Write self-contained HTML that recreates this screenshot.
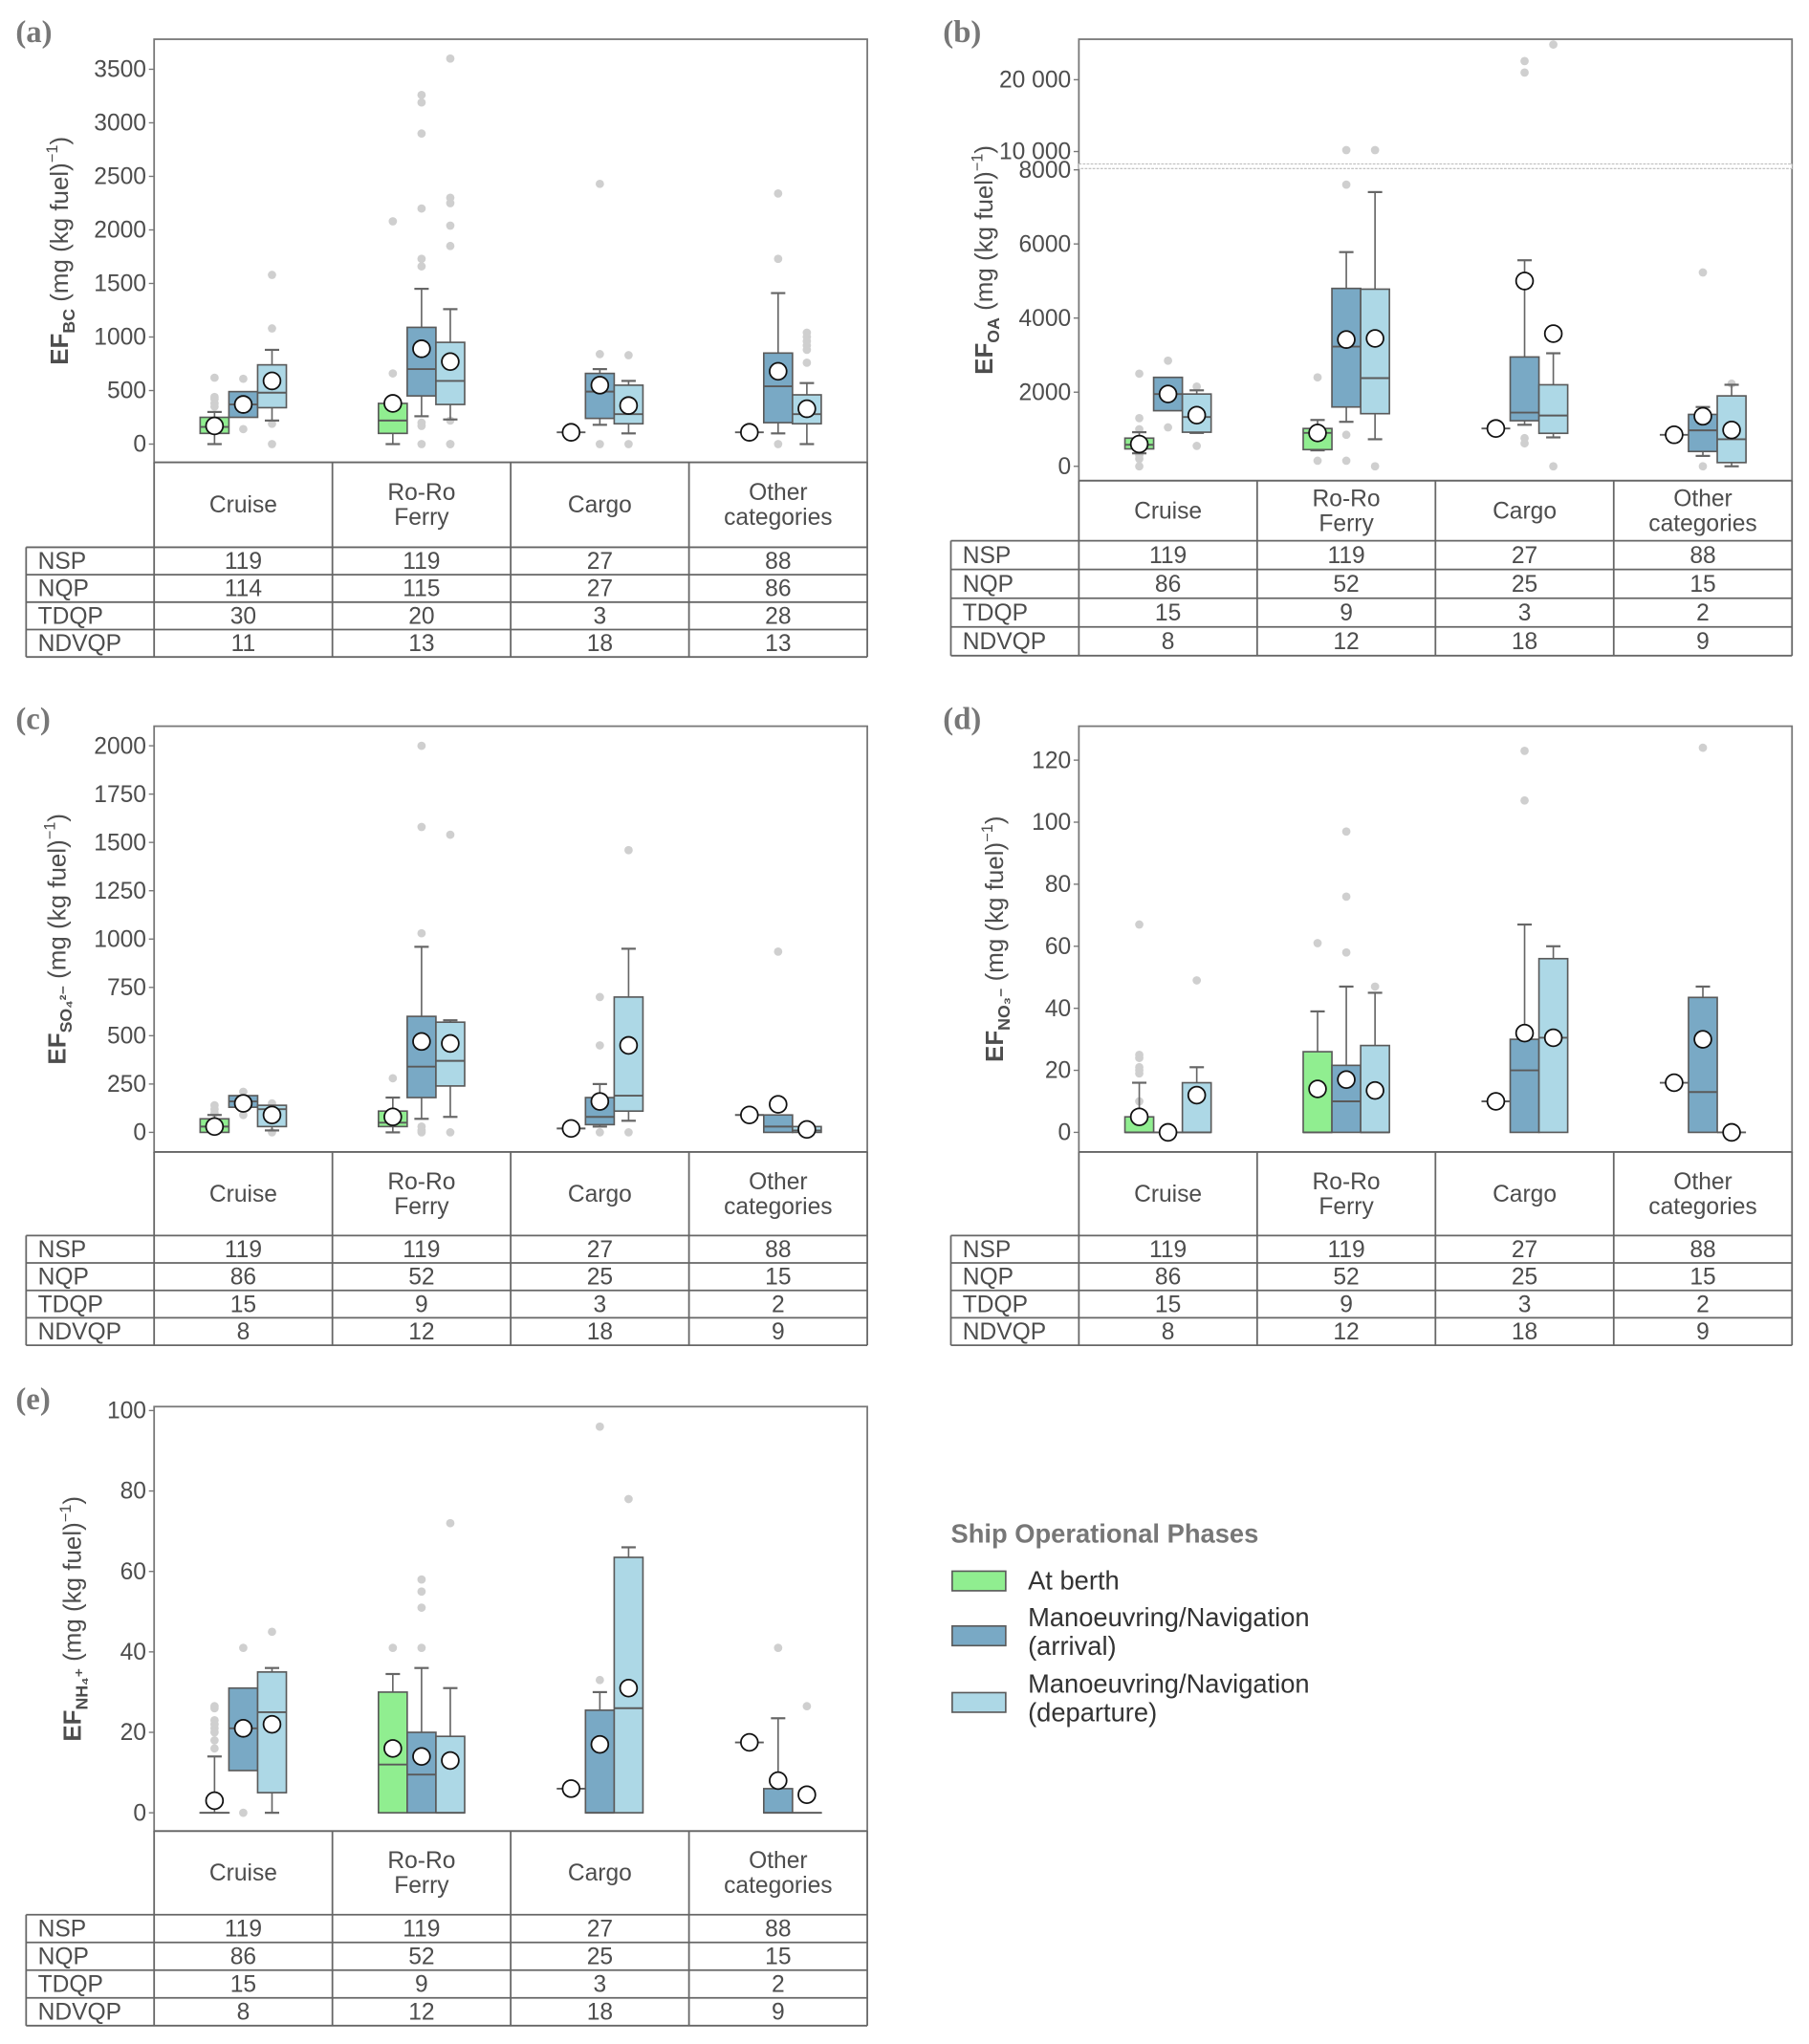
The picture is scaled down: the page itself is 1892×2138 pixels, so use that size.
<!DOCTYPE html>
<html><head><meta charset="utf-8">
<style>
html,body{margin:0;padding:0;background:#fff;}
svg{display:block;font-family:"Liberation Sans Narrow","Liberation Sans",sans-serif;}
</style></head>
<body>
<svg id="fig" width="1892" height="2138" viewBox="0 0 1385 1565" xmlns="http://www.w3.org/2000/svg"></svg>
<script>
// ---------- shared data ----------
const categories = [["Cruise"],["Ro-Ro","Ferry"],["Cargo"],["Other","categories"]];
const phases = ["At berth","Manoeuvring/Navigation (arrival)","Manoeuvring/Navigation (departure)"];
const rowLabels = ["NSP","NQP","TDQP","NDVQP"];
const tableA = [[119,119,27,88],[114,115,27,86],[30,20,3,28],[11,13,18,13]];
const tableOther = [[119,119,27,88],[86,52,25,15],[15,9,3,2],[8,12,18,9]];

// Boxes: order = cruise(berth,arr,dep), roro(...), cargo(...), other(...); [whiskerLow,q1,median,q3,whiskerHigh] or null for single value
const bcBoxes = [[0,100,160,250,300],[250,250,370,490,490],[220,340,480,740,880],
 [0,100,220,380,380],[260,450,700,1090,1450],[230,370,590,950,1260],
 null,[180,240,490,660,700],[100,190,280,550,590],
 null,[100,200,540,850,1410],[0,190,280,460,570]];
const bcMeans = [170,370,590,380,890,770,110,550,360,110,680,330];
const bcOutliers = [[350,380,420,440,620],[140,610],[0,190,1080,1580],
 [660,2080],[0,170,200,1660,1730,2200,2900,3190,3260],[0,0,220,1850,2040,2250,2300,3600],
 [],[0,840,2430],[0,830],[],[0,1730,2340],[760,880,920,960,1000,1040]];
const bcTicks = [0,500,1000,1500,2000,2500,3000,3500];

const oaBoxes = [[350,470,580,760,920],[1500,1500,1950,2400,2400],[900,920,1330,1950,2050],
 [430,450,900,1020,1250],[1200,1600,3230,4800,5780],[730,1420,2380,4780,7400],
 null,[1120,1230,1450,2950,5560],[780,890,1370,2200,3050],
 null,[280,400,970,1400,1600],[0,100,730,1900,2200]];
const oaMeans = [600,1950,1380,900,3420,3450,1020,5000,3580,850,1350,980];
const oaOutliers = [[0,200,300,1000,1300,2500],[1050,2850],[550,2150],
 [150,2400],[150,850,7600,10200],[0,10200],
 [],[620,760,21000,22600],[0,24900],[],[0,5230],[2230]];
const oaTicksLow = [0,2000,4000,6000,8000];
const oaTicksHigh = [10000,20000];
const oaTickLabelsHigh = ["10 000","20 000"];

const so4Boxes = [[0,0,30,70,90],[130,130,160,190,190],[10,30,120,140,140],
 [0,30,50,110,180],[70,180,340,600,960],[80,240,370,570,580],
 null,[30,40,80,180,250],[60,110,190,700,950],
 null,[0,0,30,90,90],[0,0,10,30,30]];
const so4Means = [30,150,90,80,470,460,20,160,450,90,145,15];
const so4Outliers = [[100,120,140],[90,210],[0,150],
 [280],[0,10,30,1030,1580,2000],[0,1540],
 [],[0,450,700],[0,1460],[],[935],[]];
const so4Ticks = [0,250,500,750,1000,1250,1500,1750,2000];

const no3Boxes = [[0,0,0,5,16],[0,0,0,0,0],[0,0,0,16,21],
 [0,0,0,26,39],[0,0,10,21.6,47],[0,0,0,28,45],
 null,[0,0,20,30,67],[0,0,30.5,56,60],
 null,[0,0,13,43.5,47],null];
const no3Means = [5,0,12,14,17,13.5,10,32,30.5,16,30,0];
const no3Outliers = [[10,19,20,21,24,25,67],[],[49],
 [61],[58,76,97],[47],[],[107,123],[],[],[124],[]];
const no3Ticks = [0,20,40,60,80,100,120];

const nh4Boxes = [[0,0,0,0,14],[10.5,10.5,21,31,31],[0,5,25,35,36],
 [0,0,12,30,34.5],[0,0,9.5,20,36],[0,0,0,19,31],
 null,[0,0,0,25.5,30],[0,0,26,63.5,66],
 null,[0,0,0,6,23.5],[0,0,0,0,0]];
const nh4Means = [3,21,22,16,14,13,6,17,31,17.5,8,4.5];
const nh4Outliers = [[16,18,20,21,22,23,26,26.5],[0,41],[45],
 [41],[41,51,55,58],[72],[],[33,96],[78],[],[41],[26.5]];
const nh4Ticks = [0,20,40,60,80,100];

// ---------- drawing ----------
const NS = "http://www.w3.org/2000/svg";
const svg = document.getElementById('fig');
const fills = ["#90EE90","#79A9C5","#ADD8E6"];
function mk(tag, attrs, parent){
  const e = document.createElementNS(NS, tag);
  for(const k in attrs) e.setAttribute(k, attrs[k]);
  (parent||svg).appendChild(e);
  return e;
}
function linScale(v0, p0, v1, p1){ return v => p0 + (v - v0) * (p1 - p0) / (v1 - v0); }

function drawPanel(cfg){
  const g = mk('g', {});
  
  
  const {x0, x1, top, bot, y} = cfg;
  // panel label
  const lab = mk('text', {x: cfg.labX, y: top + 2, 'font-family': '"Liberation Serif",serif', 'font-weight': 'bold', 'font-size': 24, fill: '#777'}, g);
  lab.textContent = '(' + cfg.id + ')';
  
  
  // plot frame
  const fr = mk('rect', {x: x0, y: top, width: x1 - x0, height: bot - top, fill: 'none', stroke: '#777', 'stroke-width': 1.3}, g);
  
  
  // ticks
  cfg.ticks.forEach((t, i) => {
    const yy = y(t);
    mk('line', {x1: x0 - 4, x2: x0, y1: yy, y2: yy, stroke: '#777', 'stroke-width': 1}, g);
    const tl = mk('text', {x: x0 - 6, y: yy + 6, 'text-anchor': 'end', 'font-size': 18, fill: '#4d4d4d'}, g);
    tl.textContent = cfg.tickLabels ? cfg.tickLabels[i] : String(t);
    
    
  });
  if (cfg.extra) cfg.extra(g);
  // y title
  const ty = (top + bot) / 2;
  const tt = mk('text', {x: cfg.titleX, y: ty, transform: `rotate(-90 ${cfg.titleX} ${ty})`, 'text-anchor': 'middle', 'font-size': 19, fill: '#4d4d4d', 'font-family': '"Liberation Sans",sans-serif'}, g);
  
  
  tt.innerHTML = `<tspan font-weight="bold">EF</tspan><tspan font-weight="bold" font-size="13" dy="5">${cfg.sub}</tspan><tspan dy="-5"> (mg (kg fuel)</tspan><tspan font-size="12" dy="-8">−1</tspan><tspan dy="8">)</tspan>`;
  // boxes
  const colW = (x1 - x0) / 4;
  for (let i = 0; i < 12; i++){
    const c = Math.floor(i / 3), p = i % 3;
    const cx = x0 + colW * (c + 0.5) + (p - 1) * 22;
    const b = cfg.boxes[i];
    const bg = mk('g', {}, g);
    
    
    cfg.outliers[i].forEach(v => {
      mk('circle', {cx: cx, cy: y(v), r: 3.2, fill: '#cfcfcf'}, bg);
    });
    if (b){
      const [wl, q1, md, q3, wh] = b;
      if (wh > q3){ mk('line', {x1: cx, x2: cx, y1: y(q3), y2: y(wh), stroke: '#666', 'stroke-width': 1.2}, bg);
        mk('line', {x1: cx - 5.5, x2: cx + 5.5, y1: y(wh), y2: y(wh), stroke: '#666', 'stroke-width': 1.6}, bg); }
      if (wl < q1){ mk('line', {x1: cx, x2: cx, y1: y(q1), y2: y(wl), stroke: '#666', 'stroke-width': 1.2}, bg);
        mk('line', {x1: cx - 5.5, x2: cx + 5.5, y1: y(wl), y2: y(wl), stroke: '#666', 'stroke-width': 1.6}, bg); }
      mk('rect', {x: cx - 11, y: y(q3), width: 22, height: Math.max(0.01, y(q1) - y(q3)), fill: fills[p], stroke: '#5a5a5a', 'stroke-width': 1.2}, bg);
      mk('line', {x1: cx - 11, x2: cx + 11, y1: y(md), y2: y(md), stroke: '#5a5a5a', 'stroke-width': 1.4}, bg);
    } else {
      const v = cfg.means[i];
      mk('line', {x1: cx - 11, x2: cx + 11, y1: y(v), y2: y(v), stroke: '#5a5a5a', 'stroke-width': 1.4}, bg);
    }
    const m = mk('circle', {cx: cx, cy: y(cfg.means[i]), r: 6.5, fill: '#fff', stroke: '#111', 'stroke-width': 1.3}, bg);
    
    
  }
  // table
  const tg = mk('g', {}, g);
  
  
  const hT = bot, hB = cfg.hdrBot, rowH = cfg.rowH, tL = cfg.tabL;
  const tB = hB + rowH * 4;
  const st = {stroke: '#666', 'stroke-width': 1.3};
  mk('line', Object.assign({x1: x0, x2: x1, y1: hT, y2: hT}, st), tg);
  for (let r = 0; r <= 4; r++) mk('line', Object.assign({x1: tL, x2: x1, y1: hB + r * rowH, y2: hB + r * rowH}, st), tg);
  mk('line', Object.assign({x1: tL, x2: tL, y1: hB, y2: tB}, st), tg);
  for (let c = 0; c <= 4; c++){ const xx = x0 + colW * c; mk('line', Object.assign({x1: xx, x2: xx, y1: hT, y2: tB}, st), tg); }
  categories.forEach((cat, c) => {
    const cx = x0 + colW * (c + 0.5);
    const my = (hT + hB) / 2;
    cat.forEach((line, k) => {
      const t = mk('text', {x: cx, y: my + 6 + (k - (cat.length - 1) / 2) * 19, 'text-anchor': 'middle', 'font-size': 18, fill: '#4d4d4d'}, tg);
      t.textContent = line;
      
      
    });
  });
  rowLabels.forEach((rl, r) => {
    const yy = hB + rowH * (r + 0.5) + 6;
    const t = mk('text', {x: tL + 9, y: yy, 'font-size': 18, fill: '#4d4d4d'}, tg);
    t.textContent = rl;
    
    
    cfg.table[r].forEach((v, c) => {
      const tv = mk('text', {x: x0 + colW * (c + 0.5), y: yy, 'text-anchor': 'middle', 'font-size': 18, fill: '#4d4d4d'}, tg);
      tv.textContent = v;
      
      
    });
  });
}

// panel a
drawPanel({id:'a', x0:118, x1:664, top:30, bot:354, y: linScale(0,340,3500,53), ticks: bcTicks,
  boxes: bcBoxes, means: bcMeans, outliers: bcOutliers, sub:'BC', titleX:52, labX:12,
  hdrBot:419, rowH:21, tabL:20, table: tableA});

// panel b (broken axis)
const oaLow = linScale(0,357,8000,130), oaHigh = linScale(10000,116,20000,61);
const oaY = v => v > 9000 ? oaHigh(v) : oaLow(v);
drawPanel({id:'b', x0:826, x1:1372, top:30, bot:368, y: oaY, ticks: oaTicksLow,
  boxes: oaBoxes, means: oaMeans, outliers: oaOutliers, sub:'OA', titleX:760, labX:722,
  hdrBot:414, rowH:22, tabL:728, table: tableOther,
  extra: g => {
    const br = mk('rect', {x: 826, y: 125.5, width: 546, height: 3.5, fill: '#fff', stroke: '#bbb', 'stroke-width': 0.8, 'stroke-dasharray': '2 1'}, g);
    
    
    oaTicksHigh.forEach((t, i) => {
      const yy = oaHigh(t);
      mk('line', {x1: 822, x2: 826, y1: yy, y2: yy, stroke: '#777'}, g);
      const tl = mk('text', {x: 820, y: yy + 6, 'text-anchor': 'end', 'font-size': 18, fill: '#4d4d4d'}, g);
      tl.textContent = oaTickLabelsHigh[i];
      
      
    });
  }});

// panel c
drawPanel({id:'c', x0:118, x1:664, top:556, bot:882, y: linScale(0,867,2000,571), ticks: so4Ticks,
  boxes: so4Boxes, means: so4Means, outliers: so4Outliers, sub:'SO₄²⁻', titleX:50, labX:12,
  hdrBot:946, rowH:21, tabL:20, table: tableOther});

// panel d
drawPanel({id:'d', x0:826, x1:1372, top:556, bot:882, y: linScale(0,867,120,582), ticks: no3Ticks,
  boxes: no3Boxes, means: no3Means, outliers: no3Outliers, sub:'NO₃⁻', titleX:768, labX:722,
  hdrBot:946, rowH:21, tabL:728, table: tableOther});

// panel e
drawPanel({id:'e', x0:118, x1:664, top:1077, bot:1402, y: linScale(0,1388,100,1080), ticks: nh4Ticks,
  boxes: nh4Boxes, means: nh4Means, outliers: nh4Outliers, sub:'NH₄⁺', titleX:62, labX:12,
  hdrBot:1466, rowH:21.25, tabL:20, table: tableOther});

// legend
const lg = mk('g', {});


const lt = mk('text', {x: 728, y: 1181, 'font-size': 20, 'font-weight': 'bold', fill: '#777', 'font-family': '"Liberation Sans",sans-serif'}, lg);
lt.textContent = 'Ship Operational Phases';


const legY = [1203, 1245, 1296];
const legText = [["At berth"],["Manoeuvring/Navigation","(arrival)"],["Manoeuvring/Navigation","(departure)"]];
phases.forEach((ph, i) => {
  const eg = mk('g', {}, lg);
  
  
  mk('rect', {x: 729, y: legY[i], width: 41, height: 15, fill: fills[i], stroke: '#5a5a5a', 'stroke-width': 1.2}, eg);
  legText[i].forEach((s, k) => {
    const t = mk('text', {x: 787, y: legY[i] + 14 + (k - (legText[i].length - 1) / 2) * 22 + (legText[i].length > 1 ? -3 : 0), 'font-size': 20, fill: '#333', 'font-family': '"Liberation Sans",sans-serif'}, eg);
    t.textContent = s;
  });
});
</script>
</body></html>
